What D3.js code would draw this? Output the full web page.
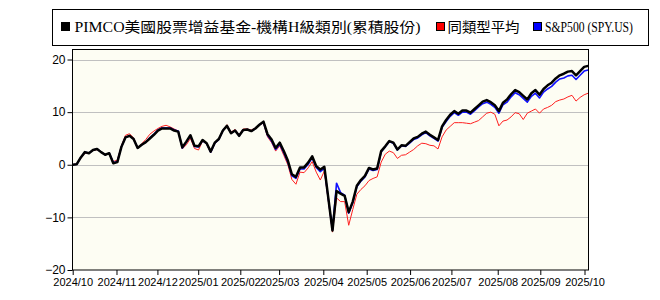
<!DOCTYPE html>
<html><head><meta charset="utf-8">
<script src="https://cdn.jsdelivr.net/npm/d3@7"></script>
<style>
html,body{margin:0;padding:0;background:#fff;}
svg{display:block;}
</style></head>
<body>
<script>
const seriesNames = ["PIMCO美國股票增益基金-機構H級類別(累積股份)", "同類型平均", "S&P500 (SPY.US)"];
const seriesColors = ["#000000", "#ff0000", "#0000ff"];
const tickLabels = ["2024/10","2024/11","2024/12","2025/01","2025/02","2025/03","2025/04","2025/05","2025/06","2025/07","2025/08","2025/09","2025/10"];
const tickPos = [0, 10.79, 20.87, 30.92, 41.29, 50.85, 61.74, 72.43, 83.12, 93.30, 104.71, 115.20, 126.09];
const yTicks = [-20, -10, 0, 10, 20];

const fund = [0.0,0.1,1.4,2.4,2.2,2.8,3.0,2.4,1.9,2.2,
 0.3,0.5,3.4,5.2,5.5,4.9,3.2,3.8,4.3,5.0,
 5.7,6.5,6.9,6.9,6.9,6.5,6.3,3.3,4.4,5.6,
 3.6,3.5,4.7,4.1,2.5,4.2,4.9,6.5,7.4,6.0,
 6.5,5.5,6.6,6.7,6.4,6.9,7.6,8.2,5.8,4.8,
 3.2,4.2,2.6,0.8,-1.8,-2.3,-0.5,-0.5,0.4,1.6,
 -0.3,-0.9,-0.4,-6.5,-12.5,-5.0,-5.5,-5.9,-9.0,-7.0,
 -4.0,-2.9,-2.1,-0.6,-0.9,-0.7,2.6,3.5,4.5,4.2,
 2.9,3.7,3.6,4.3,5.0,5.3,5.9,6.3,5.7,5.2,
 4.7,7.3,8.5,9.5,10.2,9.7,10.3,10.3,9.9,10.6,
 11.3,12.0,12.3,11.9,11.3,10.2,11.8,12.4,13.4,14.2,
 13.8,13.1,12.4,13.6,14.2,13.3,14.4,15.1,15.6,16.4,
 17.0,17.3,17.7,17.8,17.0,17.8,18.6,18.8];

const peer = [0.0,0.2,1.2,2.2,2.2,2.7,2.9,2.5,1.9,2.2,
 0.6,0.9,3.6,5.6,5.9,5.1,3.2,4.0,4.8,5.8,
 6.4,6.9,7.3,7.5,7.2,6.8,6.4,3.0,3.8,5.0,
 3.1,2.8,4.5,4.0,2.3,4.0,4.8,6.5,7.6,6.2,
 6.7,5.7,6.8,6.8,6.6,7.0,7.6,7.9,5.3,4.2,
 2.6,3.6,1.8,0.0,-2.8,-3.7,-1.4,-1.5,-0.6,0.6,
 -1.4,-2.9,-1.2,-7.0,-12.8,-6.3,-7.0,-7.0,-11.5,-8.5,
 -5.6,-4.7,-4.0,-3.0,-2.6,-2.3,0.5,2.0,2.6,2.3,
 1.2,1.8,1.9,2.4,2.9,3.6,4.1,4.0,3.7,3.6,
 3.0,5.3,6.6,7.3,8.0,8.0,8.0,7.9,7.8,8.1,
 8.4,9.1,9.8,10.0,9.6,7.4,8.3,8.5,9.1,9.9,
 9.7,8.6,9.8,10.2,10.6,9.8,10.6,10.9,11.3,12.0,
 12.3,12.5,12.9,13.2,12.1,12.8,13.3,13.6];

const spy = [0.0,0.1,1.4,2.4,2.2,2.8,3.0,2.4,1.9,2.2,
 0.4,0.6,3.4,5.2,5.5,4.9,3.2,3.8,4.3,5.1,
 5.8,6.6,7.0,7.0,7.0,6.6,6.4,3.2,4.3,5.5,
 3.5,3.4,4.6,4.0,2.4,4.1,4.8,6.5,7.4,6.0,
 6.5,5.5,6.6,6.7,6.4,6.9,7.6,8.1,5.6,4.5,
 2.9,3.9,2.3,0.5,-2.1,-2.6,-0.8,-0.8,0.1,1.3,
 -0.5,-1.3,-0.7,-6.6,-12.4,-3.5,-5.3,-5.8,-9.2,-7.2,
 -4.2,-3.1,-2.3,-0.8,-1.1,-0.9,2.4,3.4,4.4,4.1,
 2.8,3.6,3.5,4.1,4.8,5.1,5.7,6.1,5.5,5.0,
 4.5,7.1,8.2,9.2,9.9,9.4,10.0,10.0,9.6,10.3,
 11.0,11.6,11.9,11.5,10.9,9.8,11.4,11.9,12.9,13.7,
 13.3,12.6,11.9,13.0,13.6,12.7,13.8,14.4,14.9,15.7,
 16.3,16.5,16.9,17.0,16.2,17.0,17.8,18.0];

const W = 660, H = 300;
const plot = {left: 72.5, right: 588.5, top: 49, bottom: 270};

const svg = d3.select("body").append("svg").attr("width", W).attr("height", H);

const x = d3.scaleLinear().domain([0, fund.length - 1]).range([plot.left + 0.2, plot.right - 0.3]);
const y = d3.scaleLinear().domain([-20, 22]).range([plot.bottom, plot.top]);

// plot background
svg.append("rect").attr("x", plot.left).attr("y", plot.top)
  .attr("width", plot.right - plot.left).attr("height", plot.bottom - plot.top)
  .attr("fill", "#fdfdf3");

// grid lines
svg.append("g").selectAll("line").data(yTicks.filter(d => d > -20)).join("line")
  .attr("x1", plot.left).attr("x2", plot.right)
  .attr("y1", d => Math.round(y(d)) + 0.5).attr("y2", d => Math.round(y(d)) + 0.5)
  .attr("stroke", "#c0c0c0").attr("stroke-width", 1);

// lines
const line = d3.line().x((d, i) => x(i)).y(d => y(d));
svg.append("path").datum(peer).attr("d", line).attr("fill", "none")
  .attr("stroke", "#ff2020").attr("stroke-width", 1).attr("stroke-linejoin", "round");
svg.append("path").datum(spy).attr("d", line).attr("fill", "none")
  .attr("stroke", "#1010ff").attr("stroke-width", 1.6).attr("stroke-linejoin", "round");
svg.append("path").datum(fund).attr("d", line).attr("fill", "none")
  .attr("stroke", "#000").attr("stroke-width", 2.5).attr("stroke-linejoin", "round");

// plot border
svg.append("rect").attr("x", plot.left).attr("y", plot.top + 0.5)
  .attr("width", plot.right - plot.left).attr("height", plot.bottom - plot.top - 0.5)
  .attr("fill", "none").attr("stroke", "#000").attr("stroke-width", 1);

// axes
const yAxis = svg.append("g").attr("transform", `translate(${plot.left},0)`)
  .call(d3.axisLeft(y).tickValues(yTicks).tickSize(5).tickPadding(2).tickFormat(d3.format("d")));
yAxis.select(".domain").remove();
yAxis.selectAll("text").attr("font-family", "Liberation Sans, Arial, sans-serif").attr("font-size", 12).attr("fill", "#000");
yAxis.selectAll("line").attr("stroke", "#000");

const xAxis = svg.append("g").attr("transform", `translate(0,${plot.bottom})`)
  .call(d3.axisBottom(x).tickValues(tickPos).tickSize(5).tickPadding(3).tickFormat((d, i) => tickLabels[i]));
xAxis.select(".domain").remove();
xAxis.selectAll("text").attr("font-family", "Liberation Sans, Arial, sans-serif").attr("font-size", 11).attr("fill", "#000");
xAxis.selectAll("line").attr("stroke", "#000");

// legend
svg.append("rect").attr("x", 52.5).attr("y", 9.5).attr("width", 596).attr("height", 36)
  .attr("fill", "#fff").attr("stroke", "#000").attr("stroke-width", 1);
const legendItems = [
  {sq: 61, tx: 74.5, w: 346, color: seriesColors[0]},
  {sq: 436, tx: 447.5, w: 72, color: seriesColors[1]},
  {sq: 533, tx: 545, w: 88, color: seriesColors[2]}
];
const lg = svg.append("g");
legendItems.forEach((it, i) => {
  lg.append("rect").attr("x", it.sq + 0.5).attr("y", 22.5).attr("width", 8).attr("height", 8)
    .attr("fill", it.color).attr("stroke", "#000").attr("stroke-width", 1);
  lg.append("text").attr("x", it.tx).attr("y", 31.5)
    .attr("font-family", "Liberation Serif, 'Noto Sans CJK TC', serif").attr("font-size", 14)
    .attr("textLength", it.w).attr("lengthAdjust", "spacingAndGlyphs")
    .text(seriesNames[i]);
});
</script>
</body></html>
